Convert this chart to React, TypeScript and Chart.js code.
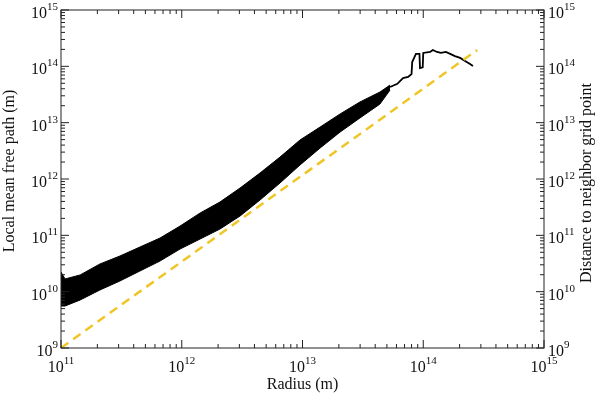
import React, { useEffect, useRef } from "react";
import { Chart, registerables } from "chart.js";

Chart.register(...registerables);

// Black band (dense oscillation) read as upper / lower envelope
const bandRadius = [1e11, 1.08e11, 1.44e11, 2.1e11, 3.08e11, 4.51e11, 6.61e11, 9.68e11, 1.42e12, 2.07e12, 3.04e12, 4.45e12, 6.51e12, 9.53e12, 1.4e13, 2.05e13, 2.99e13, 4.38e13, 5.31e13];
const bandUpper = [2.23e10, 1.68e10, 1.98e10, 3.1e10, 4.3e10, 6.21e10, 8.96e10, 1.46e11, 2.49e11, 3.9e11, 6.92e11, 1.28e12, 2.45e12, 4.92e12, 8.38e12, 1.43e13, 2.33e13, 3.5e13, 4.66e13];
const bandLower = [5.56e9, 5.56e9, 7.11e9, 1.07e10, 1.55e10, 2.33e10, 3.5e10, 5.71e10, 8.61e10, 1.29e11, 2.2e11, 4.24e11, 8.49e11, 1.77e12, 3.55e12, 6.82e12, 1.21e13, 2.14e13, 3.8e13];

// Single (step-like) tail of the black curve
const tailRadius = [5.31e13, 6.1e13, 6.8e13, 7.5e13, 8.0e13, 8.1e13, 8.7e13, 9.3e13, 9.4e13, 9.9e13, 1.0e14, 1.14e14, 1.2e14, 1.3e14, 1.4e14, 1.54e14, 1.67e14, 1.83e14, 2.02e14, 2.22e14, 2.44e14, 2.58e14];
const tailValue = [4.3e13, 4.9e13, 6.2e13, 6.5e13, 7.3e13, 1.19e14, 1.66e14, 1.66e14, 9.3e13, 9.6e13, 1.73e14, 1.8e14, 1.95e14, 1.8e14, 1.73e14, 1.8e14, 1.66e14, 1.52e14, 1.41e14, 1.24e14, 1.1e14, 1.01e14];

// Dashed yellow line: distance to neighbor grid point
const gridRadius = [1e11, 2.8e14];
const gridDistance = [1e9, 1.95e14];

// Axes
const xMin = 1e11, xMax = 1e15;
const yMin = 1e9, yMax = 1e15;
const xDecades = [11, 12, 13, 14, 15];
const yDecades = [9, 10, 11, 12, 13, 14, 15];
const minorMultipliers = [2, 3, 4, 5, 6, 7, 8, 9];

const xTitle = "Radius (m)";
const yTitle = "Local mean free path (m)";
const y2Title = "Distance to neighbor grid point";

const SERIF = "'Liberation Serif', 'Times New Roman', 'DejaVu Serif', serif";

function pts(xs: number[], ys: number[]) {
  return xs.map((x, i) => ({ x, y: ys[i] }));
}

function drawPow(ctx: CanvasRenderingContext2D, exp: number, x: number, baseline: number, align: "left" | "center" | "right") {
  ctx.font = `16px ${SERIF}`;
  const w10 = ctx.measureText("10").width;
  ctx.font = `11px ${SERIF}`;
  const e = String(exp);
  const we = ctx.measureText(e).width;
  const w = w10 + we;
  let start = x;
  if (align === "center") start = x - w / 2;
  else if (align === "right") start = x - w;
  ctx.textAlign = "left";
  ctx.textBaseline = "alphabetic";
  ctx.font = `16px ${SERIF}`;
  ctx.fillText("10", start, baseline);
  ctx.font = `11px ${SERIF}`;
  ctx.fillText(e, start + w10, baseline - 8);
}

const framePlugin = {
  id: "frameDeco",
  afterDatasetsDraw(chart: any) {
    const { ctx, chartArea: a, scales } = chart;
    const xs = scales.x;
    const ys = scales.y;
    ctx.save();
    ctx.strokeStyle = "#222";
    ctx.fillStyle = "#111";
    ctx.lineWidth = 1;
    ctx.strokeRect(a.left, a.top, a.right - a.left, a.bottom - a.top);

    const major = 8;
    const minor = 4;
    ctx.beginPath();
    xDecades.forEach((d) => {
      const base = Math.pow(10, d);
      const px = xs.getPixelForValue(base);
      ctx.moveTo(px, a.bottom); ctx.lineTo(px, a.bottom - major);
      ctx.moveTo(px, a.top); ctx.lineTo(px, a.top + major);
      if (base < xMax) {
        minorMultipliers.forEach((m) => {
          const p = xs.getPixelForValue(m * base);
          ctx.moveTo(p, a.bottom); ctx.lineTo(p, a.bottom - minor);
          ctx.moveTo(p, a.top); ctx.lineTo(p, a.top + minor);
        });
      }
    });
    yDecades.forEach((d) => {
      const base = Math.pow(10, d);
      const py = ys.getPixelForValue(base);
      ctx.moveTo(a.left, py); ctx.lineTo(a.left + major, py);
      ctx.moveTo(a.right, py); ctx.lineTo(a.right - major, py);
      if (base < yMax) {
        minorMultipliers.forEach((m) => {
          const p = ys.getPixelForValue(m * base);
          ctx.moveTo(a.left, p); ctx.lineTo(a.left + minor, p);
          ctx.moveTo(a.right, p); ctx.lineTo(a.right - minor, p);
        });
      }
    });
    ctx.stroke();

    xDecades.forEach((d) => {
      const px = xs.getPixelForValue(Math.pow(10, d));
      drawPow(ctx, d, px, a.bottom + 24, "center");
    });
    yDecades.forEach((d) => {
      const py = ys.getPixelForValue(Math.pow(10, d));
      drawPow(ctx, d, a.left - 3, py + 8, "right");
      drawPow(ctx, d, a.right + 4, py + 8, "left");
    });

    ctx.font = `16px ${SERIF}`;
    ctx.textAlign = "center";
    ctx.textBaseline = "alphabetic";
    const cx = (a.left + a.right) / 2;
    const cy = (a.top + a.bottom) / 2;
    ctx.fillText(xTitle, cx, a.bottom + 41);

    ctx.save();
    ctx.translate(14, cy - 8);
    ctx.rotate(-Math.PI / 2);
    ctx.fillText(yTitle, 0, 0);
    ctx.restore();

    ctx.save();
    ctx.translate(591, cy + 4);
    ctx.rotate(-Math.PI / 2);
    ctx.fillText(y2Title, 0, 0);
    ctx.restore();

    ctx.restore();
  },
};

export default function App() {
  const ref = useRef<HTMLCanvasElement | null>(null);

  useEffect(() => {
    document.body.style.margin = "0";
    const canvas = ref.current;
    if (!canvas) return;
    const chart = new Chart(canvas, {
      type: "line",
      data: {
        datasets: [
          {
            label: "grid",
            data: pts(gridRadius, gridDistance),
            borderColor: "#f0c526",
            borderWidth: 2.5,
            borderDash: [9, 6],
            pointRadius: 0,
            fill: false,
            tension: 0,
          },
          {
            label: "upper",
            data: pts(bandRadius, bandUpper),
            borderColor: "#000",
            backgroundColor: "#000",
            borderWidth: 1,
            pointRadius: 0,
            fill: "+1",
            tension: 0,
          },
          {
            label: "lower",
            data: pts(bandRadius, bandLower),
            borderColor: "#000",
            borderWidth: 1,
            pointRadius: 0,
            fill: false,
            tension: 0,
          },
          {
            label: "tail",
            data: pts(tailRadius, tailValue),
            borderColor: "#000",
            borderWidth: 1.8,
            pointRadius: 0,
            fill: false,
            tension: 0,
          },
        ],
      },
      options: {
        animation: false,
        responsive: false,
        maintainAspectRatio: false,
        layout: { padding: { left: 61, right: 56, top: 10, bottom: 48 } },
        plugins: { legend: { display: false }, tooltip: { enabled: false } },
        scales: {
          x: { type: "logarithmic", min: xMin, max: xMax, display: false },
          y: { type: "logarithmic", min: yMin, max: yMax, display: false },
        },
      },
      plugins: [framePlugin],
    });
    return () => chart.destroy();
  }, []);

  return (
    <div style={{ position: "fixed", left: 0, top: 0, width: 600, height: 396, background: "#fff" }}>
      <canvas ref={ref} width={600} height={396} style={{ width: 600, height: 396, display: "block" }} />
    </div>
  );
}
